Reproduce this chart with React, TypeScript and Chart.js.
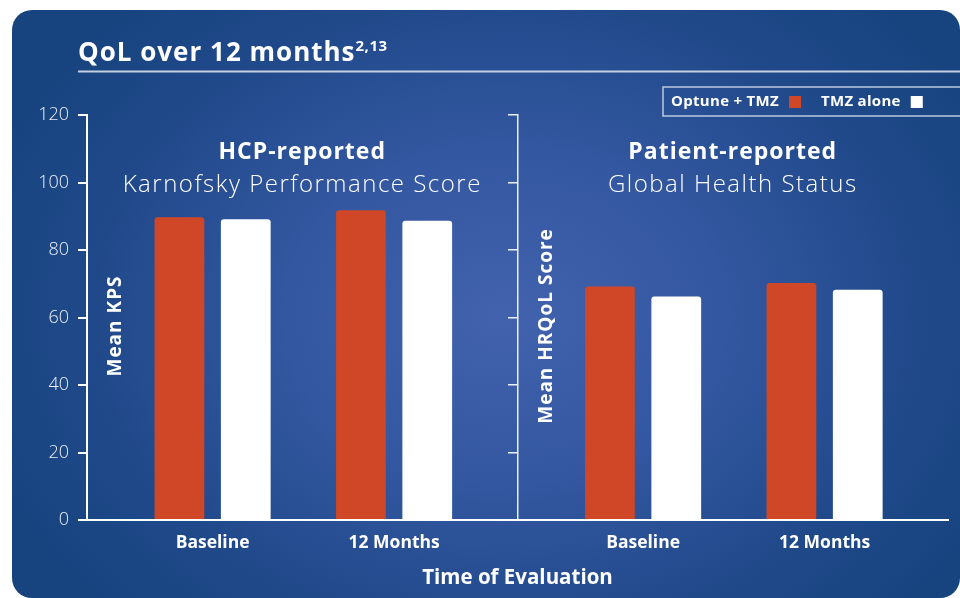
import React, { useEffect, useRef } from "react";
import { Chart, registerables } from "chart.js";

Chart.register(...registerables);

// ---------- data ----------
const categories = ["Baseline", "12 Months"];
const panelTitles = ["HCP-reported", "Patient-reported"];
const panelSubtitles = ["Karnofsky Performance Score", "Global Health Status"];
const panelAxisTitles = ["Mean KPS", "Mean HRQoL Score"];
const seriesNames = ["Optune + TMZ", "TMZ alone"];
const kpsOptune = [89.7, 91.8];
const kpsTmz = [89.1, 88.7];
const hrqolOptune = [69.2, 70.2];
const hrqolTmz = [66.2, 68.2];
const yTicks = [0, 20, 40, 60, 80, 100, 120];
const chartTitle = "QoL over 12 months";
const chartTitleSup = "2,13";
const xAxisTitle = "Time of Evaluation";

// ---------- layout / style ----------
const PANEL_SPAN = 2.372;
const CAT_OFFSET = 0.692;
const X_MAX = PANEL_SPAN * 2;
const ORANGE = "#cf4727";
const WHITE = "#ffffff";
const FONT = "'Open Sans', Lato, sans-serif";

const slotPositions: number[] = [];
for (let p = 0; p < panelTitles.length; p++) {
  for (let c = 0; c < categories.length; c++) {
    slotPositions.push(p * PANEL_SPAN + CAT_OFFSET + c);
  }
}
const optuneAll = [...kpsOptune, ...hrqolOptune];
const tmzAll = [...kpsTmz, ...hrqolTmz];

function spacing(ctx: any, px: number) {
  try {
    ctx.letterSpacing = `${px}px`;
  } catch (e) {
    /* ignore */
  }
}

const overlayPlugin = {
  id: "overlay",
  afterDraw(chart: any) {
    const { ctx, scales } = chart;
    const xs = scales.x;
    ctx.save();
    ctx.fillStyle = WHITE;

    // main title
    ctx.textAlign = "left";
    ctx.textBaseline = "alphabetic";
    ctx.font = `bold 26px ${FONT}`;
    spacing(ctx, 1);
    ctx.fillText(chartTitle, 78, 61);
    const tw = ctx.measureText(chartTitle).width;
    ctx.font = `bold 15px ${FONT}`;
    spacing(ctx, 0.5);
    ctx.fillText(chartTitleSup, 78 + tw, 51);

    // underline
    ctx.strokeStyle = "rgba(215,222,236,0.9)";
    ctx.lineWidth = 2;
    ctx.beginPath();
    ctx.moveTo(78, 71.5);
    ctx.lineTo(960, 71.5);
    ctx.stroke();

    // legend box
    ctx.strokeStyle = "rgba(205,214,232,0.9)";
    ctx.lineWidth = 1.5;
    ctx.strokeRect(663, 87, 320, 29);
    ctx.font = `bold 15px ${FONT}`;
    spacing(ctx, 0.3);
    ctx.textBaseline = "middle";
    const colors = [ORANGE, WHITE];
    let lx = 671;
    seriesNames.forEach((name, i) => {
      ctx.fillStyle = WHITE;
      ctx.fillText(name, lx, 102);
      const w = ctx.measureText(name).width;
      ctx.fillStyle = colors[i];
      ctx.fillRect(lx + w + 10, 96, 12, 12);
      lx = lx + w + 10 + 12 + 20;
    });

    // panel headings
    ctx.fillStyle = WHITE;
    ctx.textAlign = "center";
    ctx.textBaseline = "alphabetic";
    panelTitles.forEach((t, p) => {
      const cx = xs.getPixelForValue(p * PANEL_SPAN + PANEL_SPAN / 2);
      ctx.font = `bold 23px ${FONT}`;
      spacing(ctx, 1);
      ctx.fillText(t, cx, 159);
      ctx.font = `300 24px ${FONT}`;
      spacing(ctx, 1.5);
      ctx.fillText(panelSubtitles[p], cx, 192);
    });

    // in-plot y axis titles
    ctx.font = `bold 19px ${FONT}`;
    spacing(ctx, 1);
    ctx.textBaseline = "middle";
    panelAxisTitles.forEach((t, p) => {
      const left = xs.getPixelForValue(p * PANEL_SPAN);
      ctx.save();
      ctx.translate(left + 29, 326);
      ctx.rotate(-Math.PI / 2);
      ctx.fillText(t, 0, 0);
      ctx.restore();
    });
    spacing(ctx, 0);
    ctx.restore();
  },
};

export default function App() {
  const ref = useRef<HTMLCanvasElement>(null);

  useEffect(() => {
    if (!ref.current) return;
    const chart = new Chart(ref.current, {
      type: "bar",
      data: {
        datasets: [
          {
            label: seriesNames[0],
            data: slotPositions.map((x, i) => ({ x, y: optuneAll[i] })),
            backgroundColor: ORANGE,
          },
          {
            label: seriesNames[1],
            data: slotPositions.map((x, i) => ({ x, y: tmzAll[i] })),
            backgroundColor: WHITE,
          },
        ],
      },
      options: {
        responsive: false,
        animation: false,
        devicePixelRatio: 1,
        layout: { padding: { left: 0, top: 115, right: 12, bottom: 0 } },
        plugins: {
          legend: { display: false },
          tooltip: { enabled: false },
        },
        datasets: {
          bar: {
            categoryPercentage: 0.731,
            barPercentage: 0.75,
            borderRadius: 3,
          },
        },
        scales: {
          x: {
            type: "linear",
            min: 0,
            max: X_MAX,
            offset: false,
            bounds: "data",
            afterBuildTicks: (s: any) => {
              s.ticks = slotPositions.map((v) => ({ value: v }));
            },
            afterFit: (s: any) => {
              s.height = 78;
            },
            grid: { display: false, drawTicks: false, offset: false },
            border: { display: true, color: WHITE, width: 2 },
            ticks: {
              autoSkip: false,
              maxRotation: 0,
              padding: 13,
              color: WHITE,
              font: { family: FONT, size: 17.5, weight: "bold" },
              callback: (_v: any, i: number) => categories[i % categories.length],
            },
            title: {
              display: true,
              text: xAxisTitle,
              color: WHITE,
              font: { family: FONT, size: 20.5, weight: "bold" },
              padding: { top: 0, bottom: 8 },
            },
          },
          y: {
            min: yTicks[0],
            max: yTicks[yTicks.length - 1],
            afterBuildTicks: (s: any) => {
              s.ticks = yTicks.map((v) => ({ value: v }));
            },
            afterFit: (s: any) => {
              s.width = 87;
            },
            ticks: {
              padding: 9,
              color: "#eef1f8",
              font: { family: FONT, size: 18, weight: "300" },
            },
            grid: {
              drawOnChartArea: false,
              drawTicks: true,
              tickLength: 9,
              color: WHITE,
              lineWidth: 2,
            },
            border: { display: true, color: WHITE, width: 2 },
          },
          y2: {
            type: "linear",
            position: { x: PANEL_SPAN } as any,
            min: yTicks[0],
            max: yTicks[yTicks.length - 1],
            afterBuildTicks: (s: any) => {
              s.ticks = yTicks.map((v) => ({ value: v }));
            },
            ticks: { display: false },
            grid: {
              drawOnChartArea: false,
              drawTicks: true,
              tickLength: 9,
              color: "rgba(255,255,255,0.9)",
              lineWidth: 1.5,
            },
            border: { display: true, color: "rgba(255,255,255,0.9)", width: 1.5 },
          },
        },
      } as any,
      plugins: [overlayPlugin],
    });
    return () => chart.destroy();
  }, []);

  return (
    <div
      style={{
        position: "fixed",
        left: 0,
        top: 0,
        width: 960,
        height: 598,
        background: "#ffffff",
        overflow: "hidden",
      }}
    >
      <div
        style={{
          position: "absolute",
          left: 12,
          top: 10,
          width: 948,
          height: 588,
          borderRadius: 20,
          background:
            "radial-gradient(ellipse 58% 72% at 52% 52%, #4262ad 0%, #3357a0 40%, #20498a 75%, #17447f 100%)",
        }}
      />
      <canvas
        ref={ref}
        width={960}
        height={598}
        style={{ position: "absolute", left: 0, top: 0, width: 960, height: 598 }}
      />
    </div>
  );
}
